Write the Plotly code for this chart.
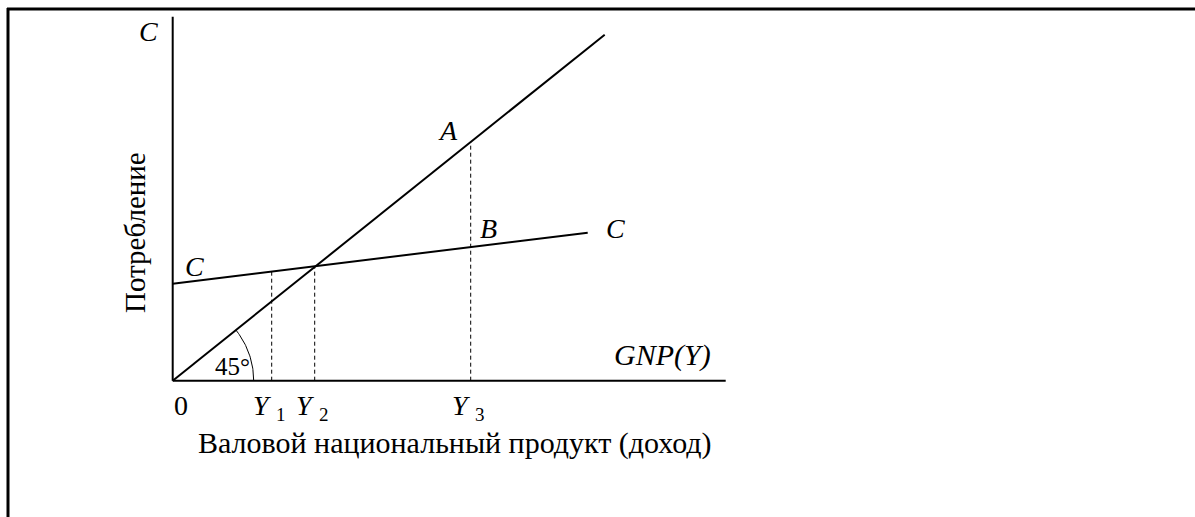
import numpy as np
import plotly.graph_objects as go

# Schematic values (units ~ pixels, origin at 0)
diag_x = [0, 432]          # 45-degree line Y = C
diag_y = [0, 346]
cons_x = [0, 415]          # consumption function C
cons_y = [97, 148]
x_axis_len = 553
y_axis_len = 364
y_marks = [99, 142, 298]   # Y1, Y2, Y3
y_mark_on = ["cons", "cons", "diag"]
y_mark_sub = ["1", "2", "3"]
arc_radius = 81

FONT = "Liberation Serif, Times New Roman, serif"
W, H = 1195, 517
X0, Y0 = 172.7, 380.7   # origin position in the picture

fig = go.Figure()

line_style = dict(color="black", width=2)

# axes
fig.add_trace(go.Scatter(x=[0, 0], y=[0, y_axis_len], mode="lines", line=line_style))
fig.add_trace(go.Scatter(x=[0, x_axis_len], y=[0, 0], mode="lines", line=line_style))

# 45 degree line and consumption line
fig.add_trace(go.Scatter(x=diag_x, y=diag_y, mode="lines", line=line_style))
fig.add_trace(go.Scatter(x=cons_x, y=cons_y, mode="lines", line=line_style))

# dashed drop lines
for xm, on in zip(y_marks, y_mark_on):
    if on == "cons":
        top = np.interp(xm, cons_x, cons_y)
    else:
        top = np.interp(xm, diag_x, diag_y)
    fig.add_trace(go.Scatter(x=[xm, xm], y=[0, top], mode="lines",
                             line=dict(color="black", width=1, dash="4px,3px")))

# angle arc
ang = np.arctan2(diag_y[1], diag_x[1])
t = np.linspace(0, ang, 40)
fig.add_trace(go.Scatter(x=arc_radius * np.cos(t), y=arc_radius * np.sin(t),
                         mode="lines", line=dict(color="black", width=1)))


def label(text, px, py, size=28, italic=False, **kw):
    if italic:
        text = f"<i>{text}</i>"
    fig.add_annotation(x=px - X0, y=Y0 - py, xref="x", yref="y", text=text,
                       showarrow=False, font=dict(family=FONT, size=size, color="black"), **kw)


label("C", 148, 31, italic=True)
label("C", 194, 266, italic=True)
label("A", 448, 130, italic=True)
label("B", 488, 228, italic=True)
label("C", 615, 228, italic=True)
label("GNP(Y)", 662, 355, size=30, italic=True)
label("45°", 232, 366, size=25)
label("0", 181, 405)
for xm, sub in zip(y_marks, y_mark_sub):
    label("Y", X0 + xm - 9, 405, italic=True)
    label(sub, X0 + xm + 9, 414, size=19)
label("Валовой национальный продукт (доход)", 455, 443, size=30)
label("Потребление", 135, 233, size=29, textangle=-90)

# frame
fig.add_shape(type="line", xref="paper", yref="paper", x0=7 / W, x1=1, y0=1 - 9 / H, y1=1 - 9 / H,
              line=dict(color="black", width=3))
fig.add_shape(type="line", xref="paper", yref="paper", x0=8 / W, x1=8 / W, y0=0, y1=1 - 8 / H,
              line=dict(color="black", width=3))

fig.update_layout(
    width=W, height=H,
    margin=dict(l=0, r=0, t=0, b=0),
    paper_bgcolor="white", plot_bgcolor="white",
    showlegend=False,
    xaxis=dict(range=[-X0, W - X0], visible=False, fixedrange=True),
    yaxis=dict(range=[Y0 - H, Y0], visible=False, fixedrange=True),
)

fig.write_html("out.html", config={"displayModeBar": False},
               post_script="document.body.style.margin='0px';")
